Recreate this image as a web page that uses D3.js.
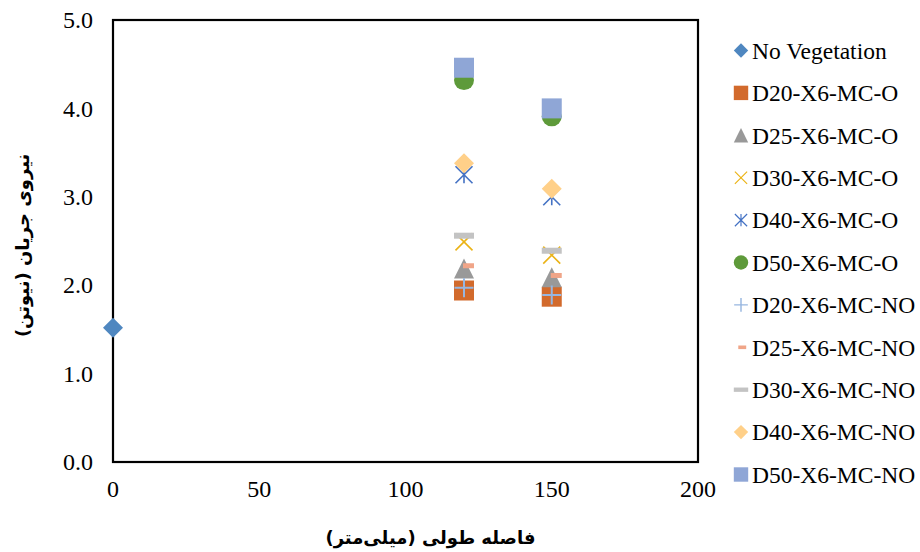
<!DOCTYPE html>
<html>
<head>
<meta charset="utf-8">
<script src="https://cdn.jsdelivr.net/npm/d3@7"></script>
<style>
  html, body { margin: 0; padding: 0; background: #fff; }
  svg { display: block; }
  .tick-label { font-family: "Liberation Serif", "Times New Roman", serif; font-size: 24px; fill: #000; }
  .legend-label { font-family: "Liberation Serif", "Times New Roman", serif; font-size: 23.5px; fill: #000; }
  .axis-title { font-family: "DejaVu Sans", sans-serif; font-weight: bold; font-size: 18px; fill: #000; }
</style>
</head>
<body>
<svg id="chart" width="920" height="552"></svg>
<script>
(function () {
  "use strict";

  // data
  const xTicks = [0, 50, 100, 150, 200];
  const yTicks = [0, 1, 2, 3, 4, 5];

  const noVegDistance = [0];
  const noVegForce    = [1.52];

  const distances = [120, 150];
  const forceD20O  = [1.94, 1.87];
  const forceD25O  = [2.19, 2.09];
  const forceD30O  = [2.49, 2.34];
  const forceD40O  = [3.25, 3.00];
  const forceD50O  = [4.32, 3.91];
  const forceD20NO = [1.97, 1.89];
  const forceD25NO = [2.22, 2.11];
  const forceD30NO = [2.56, 2.39];
  const forceD40NO = [3.38, 3.09];
  const forceD50NO = [4.46, 4.00];

  const seriesNames = [
    "No Vegetation", "D20-X6-MC-O", "D25-X6-MC-O", "D30-X6-MC-O", "D40-X6-MC-O", "D50-X6-MC-O",
    "D20-X6-MC-NO", "D25-X6-MC-NO", "D30-X6-MC-NO", "D40-X6-MC-NO", "D50-X6-MC-NO"
  ];
  const seriesX = [noVegDistance, distances, distances, distances, distances, distances,
                   distances, distances, distances, distances, distances];
  const seriesY = [noVegForce, forceD20O, forceD25O, forceD30O, forceD40O, forceD50O,
                   forceD20NO, forceD25NO, forceD30NO, forceD40NO, forceD50NO];

  const markers = ["diamond", "square", "triangle", "x", "asterisk", "circle",
                   "plus", "shortdash", "dash", "diamond", "square"];
  const colors  = ["#4F87C0", "#D26A2C", "#999999", "#EBB316", "#4472C4", "#5E9A3A",
                   "#97B6E0", "#F0A588", "#C3C3C3", "#FFD089", "#8FA6D6"];

  const series = seriesNames.map((name, i) => ({
    name, marker: markers[i], color: colors[i],
    points: seriesX[i].map((x, j) => ({ x, y: seriesY[i][j] }))
  }));

  const svg = d3.select("#chart");
  const margin = { left: 113, top: 20, right: 222, bottom: 90 };
  const W = 920 - margin.left - margin.right;   // 585
  const H = 552 - margin.top - margin.bottom;   // 442

  const xScale = d3.scaleLinear().domain([0, 200]).range([0, W]);
  const yScale = d3.scaleLinear().domain([0, 5]).range([H, 0]);

  const g = svg.append("g").attr("transform", `translate(${margin.left},${margin.top})`);

  // marker drawing
  function drawMarker(sel, type, color) {
    const s = 10;
    if (type === "square") {
      sel.append("rect").attr("x", -s).attr("y", -s).attr("width", 2 * s).attr("height", 2 * s).attr("fill", color);
    } else if (type === "circle") {
      sel.append("circle").attr("r", s).attr("fill", color);
    } else if (type === "diamond") {
      sel.append("path").attr("d", `M0,${-s}L${s},0L0,${s}L${-s},0Z`).attr("fill", color);
    } else if (type === "triangle") {
      sel.append("path").attr("d", `M0,${-s}L${s},${s}L${-s},${s}Z`).attr("fill", color);
    } else if (type === "x") {
      const k = 8.5;
      sel.append("path").attr("d", `M${-k},${-k}L${k},${k}M${k},${-k}L${-k},${k}`)
        .attr("stroke", color).attr("stroke-width", 1.6).attr("fill", "none");
    } else if (type === "asterisk") {
      const k = 8.5;
      sel.append("path").attr("d", `M${-k},${-k}L${k},${k}M${k},${-k}L${-k},${k}M0,${-k}L0,${k}`)
        .attr("stroke", color).attr("stroke-width", 1.6).attr("fill", "none");
    } else if (type === "plus") {
      const k = 9.5;
      sel.append("path").attr("d", `M${-k},0L${k},0M0,${-k}L0,${k}`)
        .attr("stroke", color).attr("stroke-width", 2).attr("fill", "none");
    } else if (type === "dash") {
      sel.append("rect").attr("x", -s).attr("y", -3).attr("width", 2 * s).attr("height", 6).attr("fill", color);
    } else if (type === "shortdash") {
      sel.append("rect").attr("x", -1).attr("y", -2.5).attr("width", 11).attr("height", 5).attr("fill", color);
    }
  }

  // plot frame
  g.append("rect").attr("x", 0).attr("y", 0).attr("width", W).attr("height", H)
    .attr("fill", "none").attr("stroke", "#000").attr("stroke-width", 2.2);

  // tick labels
  g.selectAll(".ytick").data(yTicks).join("text")
    .attr("class", "tick-label")
    .attr("x", -20).attr("y", d => yScale(d)).attr("dy", "0.34em")
    .attr("text-anchor", "end")
    .text(d3.format(".1f"));

  g.selectAll(".xtick").data(xTicks).join("text")
    .attr("class", "tick-label")
    .attr("x", d => xScale(d)).attr("y", H + 35)
    .attr("text-anchor", "middle")
    .text(d => d);

  // axis titles
  g.append("text").attr("class", "axis-title")
    .attr("x", W / 2 + 25).attr("y", H + 82)
    .attr("text-anchor", "middle").attr("direction", "rtl")
    .text("فاصله طولی (میلی‌متر)");

  g.append("text").attr("class", "axis-title")
    .attr("transform", `translate(${-margin.left + 29},${yScale(2.45)}) rotate(-90)`)
    .attr("text-anchor", "middle").attr("direction", "rtl")
    .text("نیروی جریان (نیوتن)");

  // points
  series.forEach(s => {
    s.points.forEach(p => {
      const m = g.append("g").attr("transform", `translate(${xScale(p.x)},${yScale(p.y)})`);
      drawMarker(m, s.marker, s.color);
    });
  });

  // legend
  const legend = svg.append("g").attr("transform", "translate(741,50.5)");
  series.forEach((s, i) => {
    const row = legend.append("g").attr("transform", `translate(0,${i * 42.4})`);
    const m = row.append("g").attr("transform", s.marker === "shortdash" ? "translate(-2,0)" : null);
    drawMarker(m.append("g").attr("transform", "scale(0.72)"), s.marker, s.color);
    row.append("text").attr("class", "legend-label")
      .attr("x", 11).attr("y", 0).attr("dy", "0.35em")
      .text(s.name);
  });
})();
</script>
</body>
</html>
